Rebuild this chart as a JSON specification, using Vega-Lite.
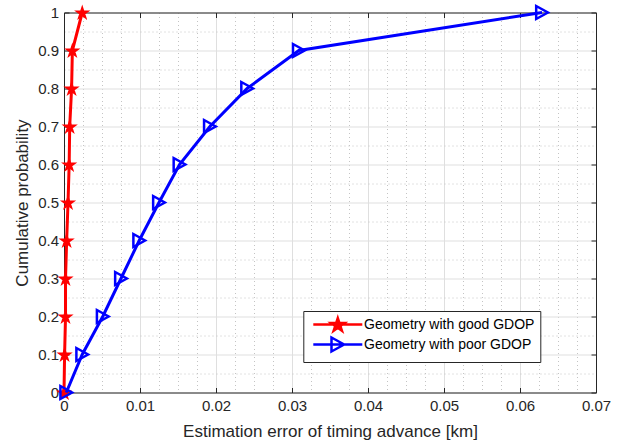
{
  "$schema": "https://vega.github.io/schema/vega-lite/v6.json",
  "autosize": {"type": "none"},
  "padding": {"left": 64, "top": 12.5, "right": 22, "bottom": 48.5},
  "width": 532,
  "height": 380,
  "background": "#ffffff",
  "config": {
    "view": {"stroke": null},
    "font": "Liberation Sans",
    "axis": {
      "domainColor": "#262626",
      "domainWidth": 1,
      "tickColor": "#262626",
      "tickWidth": 1,
      "labelColor": "#262626",
      "titleColor": "#262626",
      "labelFont": "Liberation Sans",
      "titleFont": "Liberation Sans",
      "labelFontSize": 15,
      "titleFontSize": 17,
      "titleFontWeight": "normal"
    }
  },
  "data": {
    "values": [
      {"series": "Geometry with good GDOP", "x": 0, "y": 0},
      {"series": "Geometry with good GDOP", "x": 0.00008, "y": 0.1},
      {"series": "Geometry with good GDOP", "x": 0.0002, "y": 0.2},
      {"series": "Geometry with good GDOP", "x": 0.0002, "y": 0.3},
      {"series": "Geometry with good GDOP", "x": 0.00035, "y": 0.4},
      {"series": "Geometry with good GDOP", "x": 0.00053, "y": 0.5},
      {"series": "Geometry with good GDOP", "x": 0.00068, "y": 0.6},
      {"series": "Geometry with good GDOP", "x": 0.00075, "y": 0.7},
      {"series": "Geometry with good GDOP", "x": 0.001, "y": 0.8},
      {"series": "Geometry with good GDOP", "x": 0.0011, "y": 0.9},
      {"series": "Geometry with good GDOP", "x": 0.0024, "y": 1},
      {"series": "Geometry with poor GDOP", "x": 0.0003, "y": 0},
      {"series": "Geometry with poor GDOP", "x": 0.0024, "y": 0.1},
      {"series": "Geometry with poor GDOP", "x": 0.0051, "y": 0.2},
      {"series": "Geometry with poor GDOP", "x": 0.0075, "y": 0.3},
      {"series": "Geometry with poor GDOP", "x": 0.0099, "y": 0.4},
      {"series": "Geometry with poor GDOP", "x": 0.0125, "y": 0.5},
      {"series": "Geometry with poor GDOP", "x": 0.0152, "y": 0.6},
      {"series": "Geometry with poor GDOP", "x": 0.0192, "y": 0.7},
      {"series": "Geometry with poor GDOP", "x": 0.0241, "y": 0.8},
      {"series": "Geometry with poor GDOP", "x": 0.0309, "y": 0.9},
      {"series": "Geometry with poor GDOP", "x": 0.0629, "y": 1}
    ]
  },
  "layer": [
    {
      "transform": [{"filter": "datum.series === 'Geometry with good GDOP'"}],
      "mark": {"type": "line", "color": "#ff0000", "strokeWidth": 3},
      "encoding": {
        "x": {
          "field": "x", "type": "quantitative",
          "scale": {"domain": [0, 0.07], "nice": false, "zero": false},
          "axis": {
            "orient": "bottom",
            "title": "Estimation error of timing advance [km]",
            "values": [0, 0.0025, 0.005, 0.0075, 0.01, 0.0125, 0.015, 0.0175, 0.02, 0.0225, 0.025, 0.0275, 0.03, 0.0325, 0.035, 0.0375, 0.04, 0.0425, 0.045, 0.0475, 0.05, 0.0525, 0.055, 0.0575, 0.06, 0.0625, 0.065, 0.0675, 0.07],
            "labelExpr": "abs(datum.value*100 - round(datum.value*100)) < 0.001 ? format(datum.value, '~g') : ''",
            "grid": true,
            "gridColor": {"condition": {"test": "abs(datum.value*100 - round(datum.value*100)) < 0.001", "value": "#dfdfdf"}, "value": "#c4c4c4"},
            "gridDash": {"condition": {"test": "abs(datum.value*100 - round(datum.value*100)) < 0.001", "value": []}, "value": [1, 3]},
            "tickOpacity": {"condition": {"test": "abs(datum.value*100 - round(datum.value*100)) < 0.001", "value": 1}, "value": 0},
            "tickSize": -5,
            "labelPadding": 10.5,
            "labelFlush": false,
            "labelOverlap": false,
            "titleY": 44,
            "titleBaseline": "alphabetic"
          }
        },
        "y": {
          "field": "y", "type": "quantitative",
          "scale": {"domain": [0, 1], "nice": false},
          "axis": {
            "orient": "left",
            "title": "Cumulative probability",
            "values": [0, 0.05, 0.1, 0.15, 0.2, 0.25, 0.3, 0.35, 0.4, 0.45, 0.5, 0.55, 0.6, 0.65, 0.7, 0.75, 0.8, 0.85, 0.9, 0.95, 1],
            "labelExpr": "abs(datum.value*10 - round(datum.value*10)) < 0.001 ? format(datum.value, '~g') : ''",
            "grid": true,
            "gridColor": {"condition": {"test": "abs(datum.value*10 - round(datum.value*10)) < 0.001", "value": "#dfdfdf"}, "value": "#c4c4c4"},
            "gridDash": {"condition": {"test": "abs(datum.value*10 - round(datum.value*10)) < 0.001", "value": []}, "value": [1, 3]},
            "tickOpacity": {"condition": {"test": "abs(datum.value*10 - round(datum.value*10)) < 0.001", "value": 1}, "value": 0},
            "tickSize": -5,
            "labelPadding": 10.5,
            "labelFlush": false,
            "labelOverlap": false,
            "titleX": -37,
            "titleY": 190,
            "titleAngle": -90,
            "titleAlign": "center",
            "titleBaseline": "alphabetic"
          }
        }
      }
    },
    {
      "transform": [{"filter": "datum.series === 'Geometry with good GDOP'"}],
      "mark": {
        "type": "point",
        "shape": "M0,-0.905L0.2245,-0.214L0.951,-0.214L0.363,0.213L0.588,0.904L0,0.477L-0.588,0.904L-0.363,0.213L-0.951,-0.214L-0.2245,-0.214Z",
        "filled": true,
        "color": "#ff0000",
        "stroke": "#ff0000",
        "strokeWidth": 1.5,
        "size": 150,
        "opacity": 1
      },
      "encoding": {
        "x": {
          "field": "x", "type": "quantitative",
          "axis": {
            "orient": "top",
            "title": null,
            "values": [0, 0.01, 0.02, 0.03, 0.04, 0.05, 0.06, 0.07],
            "labels": false,
            "grid": false,
            "tickSize": -5
          }
        },
        "y": {"field": "y", "type": "quantitative", "axis": null}
      }
    },
    {
      "transform": [{"filter": "datum.series === 'Geometry with poor GDOP'"}],
      "mark": {"type": "line", "color": "#0000ff", "strokeWidth": 3},
      "encoding": {
        "x": {"field": "x", "type": "quantitative", "axis": null},
        "y": {
          "field": "y", "type": "quantitative",
          "axis": {
            "orient": "right",
            "title": null,
            "values": [0, 0.1, 0.2, 0.3, 0.4, 0.5, 0.6, 0.7, 0.8, 0.9, 1],
            "labels": false,
            "grid": false,
            "tickSize": -5
          }
        }
      }
    },
    {
      "transform": [{"filter": "datum.series === 'Geometry with poor GDOP'"}],
      "mark": {
        "type": "point",
        "shape": "M-0.9,-1L0.9,0L-0.9,1Z",
        "filled": false,
        "color": "#0000ff",
        "strokeWidth": 2.5,
        "size": 169,
        "opacity": 1
      },
      "encoding": {
        "x": {"field": "x", "type": "quantitative", "axis": null},
        "y": {"field": "y", "type": "quantitative", "axis": null}
      }
    },
    {
      "mark": {"type": "point", "opacity": 0, "size": 196, "strokeWidth": 2.5},
      "encoding": {
        "x": {"field": "x", "type": "quantitative", "axis": null},
        "y": {"field": "y", "type": "quantitative", "axis": null},
        "shape": {
          "field": "series", "type": "nominal",
          "scale": {
            "domain": ["Geometry with good GDOP", "Geometry with poor GDOP"],
            "range": [
              "M-0.5,0L6.5,0M3,-0.905L3.2245,-0.214L3.951,-0.214L3.363,0.213L3.588,0.904L3,0.477L2.412,0.904L2.637,0.213L2.049,-0.214L2.7755,-0.214Z",
              "M-0.5,0L6.5,0M2.1,-1L3.9,0L2.1,1Z"
            ]
          },
          "legend": {
            "title": null, "orient": "none", "legendX": 239.3, "legendY": 298.5,
            "padding": 5, "strokeColor": "#262626", "fillColor": "#ffffff",
            "labelFontSize": 14, "labelColor": "#000000", "labelFont": "Liberation Sans",
            "labelOffset": 38.7, "rowPadding": -4, "symbolSize": 196,
            "symbolStrokeWidth": 2.5, "symbolOpacity": 1, "labelLimit": 0
          }
        },
        "stroke": {
          "field": "series", "type": "nominal",
          "scale": {
            "domain": ["Geometry with good GDOP", "Geometry with poor GDOP"],
            "range": ["#ff0000", "#0000ff"]
          },
          "legend": {
            "title": null, "orient": "none", "legendX": 239.3, "legendY": 298.5,
            "padding": 5, "strokeColor": "#262626", "fillColor": "#ffffff",
            "labelFontSize": 14, "labelColor": "#000000", "labelFont": "Liberation Sans",
            "labelOffset": 38.7, "rowPadding": -4, "symbolSize": 196,
            "symbolStrokeWidth": 2.5, "symbolOpacity": 1, "labelLimit": 0
          }
        },
        "fill": {
          "field": "series", "type": "nominal",
          "scale": {
            "domain": ["Geometry with good GDOP", "Geometry with poor GDOP"],
            "range": ["#ff0000", "transparent"]
          },
          "legend": {
            "title": null, "orient": "none", "legendX": 239.3, "legendY": 298.5,
            "padding": 5, "strokeColor": "#262626", "fillColor": "#ffffff",
            "labelFontSize": 14, "labelColor": "#000000", "labelFont": "Liberation Sans",
            "labelOffset": 38.7, "rowPadding": -4, "symbolSize": 196,
            "symbolStrokeWidth": 2.5, "symbolOpacity": 1, "labelLimit": 0
          }
        }
      }
    }
  ]
}
